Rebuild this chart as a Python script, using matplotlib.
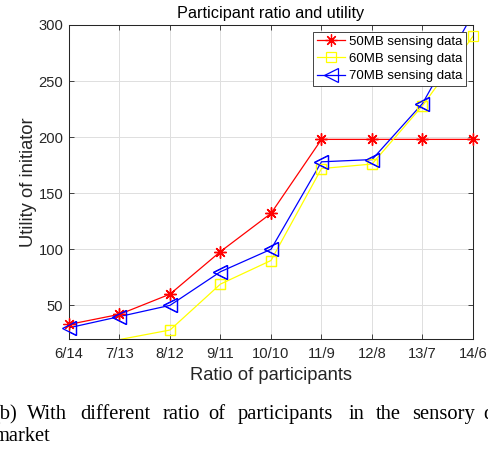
import matplotlib
matplotlib.use('Agg')
import matplotlib.pyplot as plt
import numpy as np

ratios = ['6/14', '7/13', '8/12', '9/11', '10/10', '11/9', '12/8', '13/7', '14/6']
util_50mb = [33, 42, 60, 98, 132, 198, 198, 198, 198]
util_60mb = [15, 19.5, 28, 69, 90, 172, 176, 228, 290]
util_70mb = [30, 40, 50, 80, 100, 178, 180, 230, 310]
series_labels = ['50MB sensing data', '60MB sensing data', '70MB sensing data']
y_ticks = [50, 100, 150, 200, 250, 300]
y_lim = (20, 300)

W, H = 489, 453
DARK = '#262626'
plt.rcParams['font.family'] = ['Liberation Sans', 'DejaVu Sans']

fig = plt.figure(figsize=(W / 100, H / 100), dpi=100)
ax = fig.add_axes([69 / W, 1 - 339 / H, 404 / W, 314 / H])

x = np.arange(len(ratios))
styles = [
    dict(color='#ff0000', marker=(8, 2, 0), markersize=8.6, markeredgewidth=0.9),
    dict(color='#ffff00', marker='s', markersize=7, markerfacecolor='none', markeredgewidth=0.9),
    dict(color='#0000ff', marker='<', markersize=9.5, markerfacecolor='none', markeredgewidth=0.9),
]
for y, lab, st in zip([util_50mb, util_60mb, util_70mb], series_labels, styles):
    y = np.asarray(y, dtype=float)
    # matlab draws markers on the box edge unclipped, but hides ones outside the limits
    keep = (y >= y_lim[0]) & (y <= y_lim[1])
    ax.plot(x, y, lw=0.9, label=lab, markevery=list(keep), **st)
    ax.plot(x[keep], y[keep], ls='none', clip_on=False, zorder=3, **st)

ax.set_xlim(0, len(ratios) - 1)
ax.set_ylim(*y_lim)
ax.set_xticks(x)
ax.set_xticklabels(ratios)
ax.set_yticks(y_ticks)
ax.grid(True, color='#dfdfdf', lw=0.7)
ax.set_axisbelow(True)
for s in ax.spines.values():
    s.set_color(DARK)
    s.set_linewidth(0.75)
ax.tick_params(direction='in', length=3.6, width=0.6, color=DARK, labelcolor=DARK,
               labelsize=10.6, top=True, right=True)
ax.tick_params(axis='x', pad=6)
ax.tick_params(axis='y', pad=4)

ax.set_title('Participant ratio and utility', fontsize=11.7, color='black', pad=5)
ax.set_xlabel('Ratio of participants', fontsize=13.2, color=DARK)
ax.set_ylabel('Utility of initiator', fontsize=13.2, color=DARK)
ax.xaxis.set_label_coords(0.5, -0.09)
ax.yaxis.set_label_coords(-0.08, 0.5)

leg = ax.legend(loc='upper right', fontsize=9.5, handlelength=2.1, handletextpad=0.3,
                labelspacing=0.38, borderpad=0.3, borderaxespad=0.5,
                fancybox=False, framealpha=1, edgecolor=DARK)
leg.get_frame().set_linewidth(0.6)

# caption below the figure (justified, cut off at the edges)
serif = ['Liberation Serif', 'DejaVu Serif']
line1 = [('(b)', 17, 'right'), ('With', 27, 'left'), ('different', 80, 'left'),
         ('ratio', 163, 'left'), ('of', 208, 'left'), ('participants', 238, 'left'),
         ('in', 349, 'left'), ('the', 376, 'left'), ('sensory', 412, 'left'),
         ('data', 483, 'left')]
for word, px, ha in line1:
    fig.text(px / W, 1 - 419 / H, word, ha=ha, va='baseline', fontsize=14.8,
             family=serif, color='black')
fig.text(-6 / W, 1 - 441 / H, 'market', ha='left', va='baseline', fontsize=14.8,
         family=serif, color='black')

fig.savefig('out.png', dpi=100)
